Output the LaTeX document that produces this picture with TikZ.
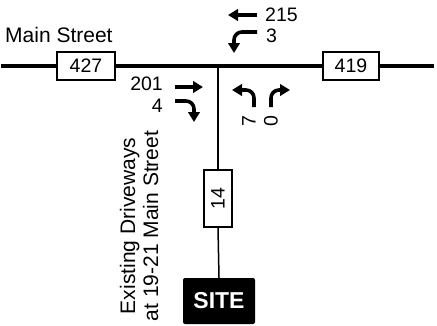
\documentclass[tikz,border=0pt]{standalone}
\usepackage{fontspec}
\setmainfont{Liberation Sans}
\usetikzlibrary{arrows.meta}
\tikzset{
  vol/.style={rectangle,draw=black,line width=1.2pt,fill=white,inner sep=0pt,minimum width=58pt,minimum height=28pt,font=\fontsize{19.5}{22}\selectfont},
  lbl/.style={inner sep=0pt,font=\fontsize{19.5}{22}\selectfont},
  mvt/.style={line width=3.6pt,-{Triangle[length=10pt,width=11.5pt]}},
  mainrd/.style={line width=3.5pt},
  siderd/.style={line width=1.5pt}
}
\begin{document}
\begin{tikzpicture}[x=1pt,y=-1pt]
\useasboundingbox (0,0) rectangle (437,325);
% road coordinates
\coordinate (west) at (1,66);
\coordinate (east) at (434,66);
\coordinate (junc) at (218,66);
% nodes
\node[vol] (m427) at (86,66) {427};
\node[vol,minimum width=56pt] (m419) at (351,66) {419};
\node[vol,rotate=90,minimum width=57pt] (b14) at (218,198.5) {14};
\node[rectangle,fill=black,rounded corners=2pt,minimum width=72pt,minimum height=46pt,inner sep=0pt,text=white,font=\fontsize{23}{26}\selectfont\bfseries] (site) at (219,301) {SITE};
% roads
\draw[mainrd] (west) -- (m427.west);
\draw[mainrd] (m427.east) -- (m419.west);
\draw[mainrd] (m419.east) -- (east);
\draw[siderd] (junc) -- (b14.east);
\draw[siderd] (b14.west) -- (site.north);
% labels
\node[anchor=base west,inner sep=0pt,font=\fontsize{21}{24}\selectfont] (mainst) at (5,42) {Main Street};
\node[rotate=90,align=center,inner sep=0pt,font=\fontsize{21}{23}\selectfont] (drw) at (139,226) {Existing Driveways\\at 19-21 Main Street};
% movement arrows
\coordinate (wbt1) at (257,15); \coordinate (wbt2) at (228,15);
\draw[mvt] (wbt1) -- (wbt2);
\coordinate (wbl1) at (257,32); \coordinate (wbl2) at (234,53);
\draw[mvt,rounded corners=8pt] (wbl1) -| (wbl2);
\coordinate (ebt1) at (175,87); \coordinate (ebt2) at (203,87);
\draw[mvt] (ebt1) -- (ebt2);
\coordinate (ebr1) at (175,101); \coordinate (ebr2) at (194,122);
\draw[mvt,rounded corners=8pt] (ebr1) -| (ebr2);
\coordinate (nbl1) at (254,107); \coordinate (nbl2) at (232,90);
\draw[mvt,rounded corners=8pt] (nbl1) |- (nbl2);
\coordinate (nbr1) at (271,107); \coordinate (nbr2) at (290,90);
\draw[mvt,rounded corners=8pt] (nbr1) |- (nbr2);
% volumes
\node[lbl,anchor=west] (v215) at (265,15) {215};
\node[lbl,anchor=west] (v3) at (266,36) {3};
\node[lbl,anchor=east] (v201) at (163,84) {201};
\node[lbl,anchor=east] (v4) at (163,106) {4};
\node[lbl,rotate=90] (v7) at (249,121) {7};
\node[lbl,rotate=90] (v0) at (271,121) {0};
\end{tikzpicture}
\end{document}
